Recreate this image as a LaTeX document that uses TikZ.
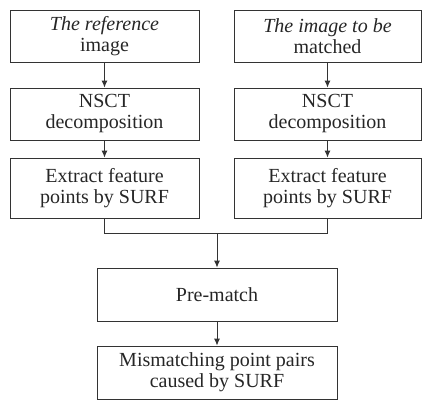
\documentclass[tikz,border=0pt]{standalone}
\usepackage{fontspec}
\setmainfont{Liberation Serif}
\usetikzlibrary{arrows.meta}
\begin{document}
\begin{tikzpicture}[x=1pt,y=-1pt,>={Latex[length=7pt,width=6pt]}]
        \tikzstyle{stage}=[draw=black!80,line width=0.9pt,inner sep=2pt,align=center,text=black!85,font=\fontsize{20}{21}\selectfont]
        \tikzstyle{link}=[draw=black!80,line width=0.9pt]
        \useasboundingbox (0,0) rectangle (422,400);
       \begin{scope}
         % left branch
         \node [stage,minimum width=189pt,minimum height=52pt] (ref) at (104.5,36) {\textit{The reference}\\image};
         \node [stage,minimum width=189pt,minimum height=52pt] (nsctl) at (104.5,114) {NSCT\\decomposition};
         \node [stage,minimum width=189pt,minimum height=60pt] (surfl) at (104.5,188) {Extract feature\\points by SURF};
         % right branch
         \node [stage,minimum width=187pt,minimum height=52pt] (match) at (327.5,36) {\textit{The image to be}\\matched};
         \node [stage,minimum width=187pt,minimum height=52pt] (nsctr) at (327.5,114) {NSCT\\decomposition};
         \node [stage,minimum width=187pt,minimum height=60pt] (surfr) at (327.5,188) {Extract feature\\points by SURF};
         % merged part
         \coordinate (join) at (217,233);
         \node [stage,minimum width=240pt,minimum height=53pt] (pre) at (217,294.5) {Pre-match};
         \node [stage,minimum width=240pt,minimum height=53pt] (mis) at (217,372.5) {Mismatching point pairs\\caused by SURF};
         \path[link,->] (ref) -- (nsctl);
         \path[link,->] (nsctl) -- (surfl);
         \path[link,->] (match) -- (nsctr);
         \path[link,->] (nsctr) -- (surfr);
         \path[link] (surfl.south) |- (join);
         \path[link] (surfr.south) |- (join);
         \path[link,->] (join) -- (pre);
         \path[link,->] (pre) -- (mis);
        \end{scope}
      \end{tikzpicture}
\end{document}
